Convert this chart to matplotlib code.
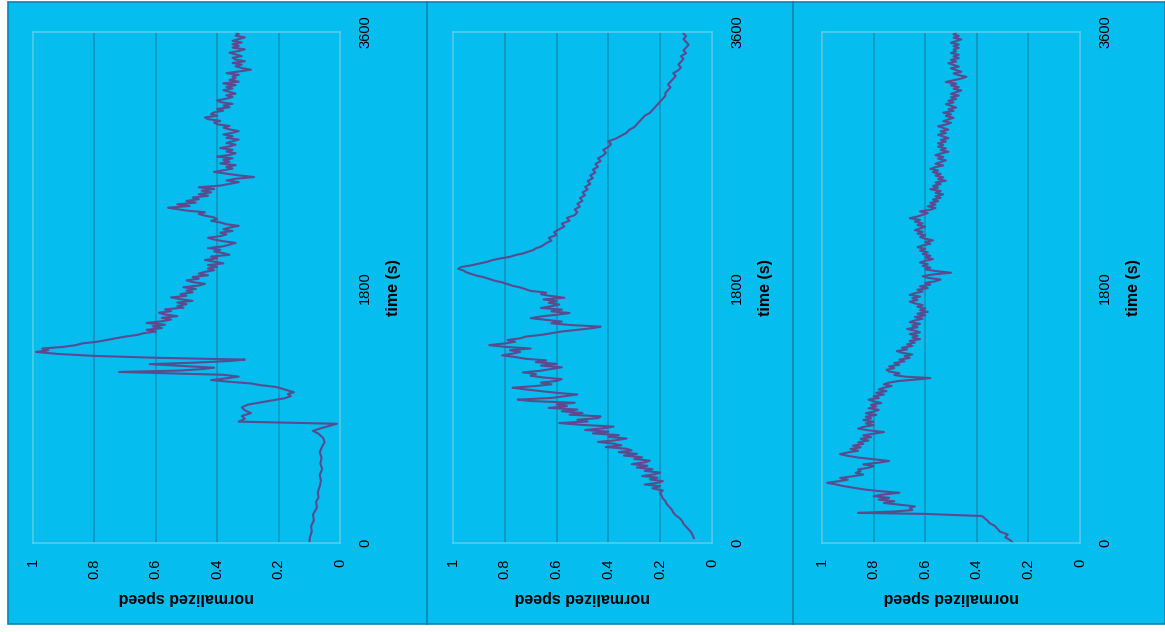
import numpy as np
import matplotlib.pyplot as plt
from matplotlib.patches import Rectangle
from matplotlib.lines import Line2D

plt.rcParams['font.family'] = ['Liberation Sans', 'DejaVu Sans']

# panel 1 : time (s) / normalized speed
t1 = [0, 40, 80, 120, 160, 200, 250, 290, 320, 360,
      400, 440, 480, 520, 560, 600, 640, 680, 710, 740,
      770, 790, 810, 828, 840, 855, 875, 895, 915, 935,
      955, 975, 990, 1005, 1020, 1035, 1050, 1062, 1075, 1088,
      1100, 1112, 1124, 1136, 1148, 1160, 1172, 1185, 1195, 1205,
      1215, 1225, 1235, 1248, 1260, 1270, 1282, 1292, 1305, 1318,
      1332, 1346, 1358, 1370, 1382, 1394, 1406, 1418, 1430, 1442,
      1454, 1466, 1478, 1490, 1502, 1514, 1526, 1538, 1550, 1562,
      1574, 1586, 1598, 1610, 1622, 1634, 1646, 1658, 1670, 1682,
      1694, 1706, 1718, 1730, 1742, 1754, 1766, 1778, 1790, 1802,
      1814, 1826, 1838, 1850, 1862, 1874, 1886, 1898, 1910, 1922,
      1934, 1946, 1958, 1970, 1982, 1994, 2006, 2018, 2030, 2042,
      2054, 2066, 2078, 2090, 2102, 2114, 2126, 2138, 2150, 2162,
      2174, 2186, 2198, 2210, 2222, 2234, 2246, 2258, 2270, 2282,
      2294, 2306, 2318, 2330, 2342, 2352, 2362, 2374, 2386, 2398,
      2410, 2422, 2434, 2446, 2458, 2470, 2482, 2494, 2506, 2518,
      2530, 2542, 2554, 2566, 2578, 2590, 2602, 2614, 2626, 2638,
      2650, 2662, 2674, 2686, 2698, 2710, 2722, 2734, 2746, 2758,
      2770, 2782, 2794, 2806, 2818, 2830, 2842, 2854, 2866, 2878,
      2890, 2902, 2914, 2926, 2938, 2950, 2962, 2974, 2986, 2998,
      3010, 3022, 3034, 3046, 3058, 3070, 3082, 3094, 3106, 3118,
      3130, 3142, 3154, 3166, 3178, 3190, 3202, 3214, 3226, 3238,
      3250, 3262, 3274, 3286, 3298, 3310, 3322, 3334, 3346, 3358,
      3370, 3382, 3394, 3406, 3418, 3430, 3442, 3454, 3466, 3478,
      3490, 3502, 3514, 3526, 3538, 3550, 3562, 3574, 3586, 3598]
s1 = [0.10, 0.098, 0.092, 0.094, 0.085, 0.088, 0.075, 0.078, 0.070, 0.072,
      0.066, 0.062, 0.066, 0.058, 0.064, 0.060, 0.066, 0.058, 0.05, 0.055,
      0.07, 0.088, 0.06, 0.03, 0.01, 0.33, 0.31, 0.32, 0.29, 0.31,
      0.32, 0.30, 0.26, 0.22, 0.18, 0.16, 0.17, 0.15, 0.17, 0.19,
      0.21, 0.26, 0.29, 0.36, 0.42, 0.37, 0.33, 0.38, 0.55, 0.72,
      0.52, 0.45, 0.41, 0.52, 0.62, 0.48, 0.36, 0.31, 0.60, 0.80,
      0.92, 0.99, 0.95, 0.97, 0.90, 0.86, 0.84, 0.79, 0.76, 0.73,
      0.70, 0.66, 0.64, 0.60, 0.63, 0.58, 0.61, 0.57, 0.63, 0.58,
      0.55, 0.58, 0.53, 0.57, 0.59, 0.55, 0.57, 0.51, 0.53, 0.50,
      0.53, 0.48, 0.52, 0.55, 0.50, 0.52, 0.48, 0.50, 0.47, 0.51,
      0.46, 0.44, 0.48, 0.50, 0.46, 0.48, 0.43, 0.46, 0.44, 0.41,
      0.43, 0.40, 0.43, 0.38, 0.41, 0.44, 0.40, 0.42, 0.36, 0.38,
      0.41, 0.39, 0.43, 0.38, 0.36, 0.34, 0.38, 0.41, 0.43, 0.39,
      0.37, 0.39, 0.35, 0.38, 0.36, 0.33, 0.37, 0.39, 0.42, 0.40,
      0.41, 0.44, 0.46, 0.44, 0.50, 0.53, 0.56, 0.49, 0.53, 0.47,
      0.50, 0.46, 0.48, 0.43, 0.46, 0.42, 0.45, 0.41, 0.46, 0.39,
      0.36, 0.33, 0.37, 0.34, 0.28, 0.33, 0.37, 0.41, 0.38, 0.35,
      0.37, 0.34, 0.39, 0.36, 0.38, 0.35, 0.40, 0.36, 0.34, 0.37,
      0.35, 0.39, 0.36, 0.34, 0.37, 0.35, 0.33, 0.37, 0.35, 0.38,
      0.35, 0.33, 0.36, 0.38, 0.36, 0.40, 0.41, 0.39, 0.43, 0.44,
      0.40, 0.42, 0.41, 0.38, 0.40, 0.36, 0.38, 0.35, 0.39, 0.40,
      0.37, 0.35, 0.37, 0.34, 0.36, 0.38, 0.35, 0.37, 0.34, 0.38,
      0.33, 0.36, 0.34, 0.35, 0.33, 0.37, 0.33, 0.29, 0.32, 0.34,
      0.32, 0.35, 0.31, 0.34, 0.35, 0.32, 0.34, 0.36, 0.33, 0.31,
      0.35, 0.33, 0.35, 0.32, 0.35, 0.33, 0.31, 0.34, 0.33, 0.34]

# panel 2
t2 = [35, 55, 75, 95, 115, 135, 155, 175, 195, 215,
      235, 255, 275, 295, 315, 335, 355, 370, 385, 400,
      412, 424, 436, 448, 460, 472, 484, 496, 508, 520,
      532, 544, 556, 568, 580, 592, 604, 616, 628, 640,
      652, 664, 676, 688, 700, 712, 724, 736, 748, 760,
      772, 784, 796, 808, 820, 832, 845, 856, 868, 880,
      892, 904, 916, 928, 940, 952, 964, 976, 988, 1000,
      1010, 1022, 1034, 1046, 1058, 1070, 1082, 1094, 1106, 1118,
      1130, 1142, 1154, 1166, 1178, 1190, 1202, 1214, 1226, 1238,
      1250, 1262, 1274, 1286, 1298, 1310, 1322, 1334, 1346, 1358,
      1370, 1382, 1394, 1406, 1418, 1430, 1442, 1454, 1466, 1478,
      1490, 1502, 1514, 1524, 1536, 1548, 1560, 1572, 1584, 1596,
      1608, 1620, 1632, 1644, 1656, 1668, 1680, 1692, 1704, 1716,
      1728, 1740, 1752, 1764, 1776, 1788, 1800, 1812, 1824, 1836,
      1848, 1860, 1872, 1884, 1896, 1908, 1920, 1932, 1944, 1956,
      1968, 1980, 1992, 2004, 2016, 2028, 2040, 2052, 2064, 2076,
      2088, 2100, 2112, 2130, 2150, 2170, 2190, 2210, 2230, 2250,
      2270, 2290, 2310, 2330, 2350, 2370, 2390, 2410, 2430, 2450,
      2470, 2490, 2510, 2530, 2550, 2570, 2590, 2610, 2630, 2650,
      2670, 2690, 2710, 2730, 2750, 2770, 2790, 2810, 2830, 2850,
      2870, 2890, 2910, 2930, 2950, 2970, 2990, 3010, 3030, 3050,
      3070, 3090, 3110, 3130, 3150, 3170, 3190, 3210, 3230, 3250,
      3270, 3290, 3310, 3330, 3350, 3370, 3390, 3410, 3430, 3450,
      3470, 3490, 3510, 3530, 3550, 3570, 3590]
s2 = [0.07, 0.075, 0.08, 0.09, 0.10, 0.11, 0.115, 0.125, 0.14, 0.15,
      0.155, 0.165, 0.175, 0.18, 0.19, 0.195, 0.20, 0.19, 0.23, 0.20,
      0.26, 0.21, 0.19, 0.24, 0.21, 0.27, 0.22, 0.20, 0.26, 0.23,
      0.29, 0.25, 0.31, 0.26, 0.24, 0.30, 0.27, 0.34, 0.29, 0.36,
      0.31, 0.33, 0.41, 0.35, 0.38, 0.44, 0.37, 0.33, 0.40, 0.36,
      0.46, 0.40, 0.49, 0.42, 0.38, 0.50, 0.59, 0.48, 0.52, 0.44,
      0.43, 0.55, 0.50, 0.58, 0.52, 0.63, 0.56, 0.60, 0.53, 0.70,
      0.75, 0.62, 0.57, 0.52, 0.60, 0.66, 0.72, 0.77, 0.68, 0.62,
      0.66, 0.60, 0.58, 0.65, 0.70, 0.68, 0.73, 0.66, 0.62, 0.58,
      0.66, 0.60, 0.68, 0.64, 0.72, 0.76, 0.81, 0.77, 0.74, 0.78,
      0.70, 0.80, 0.86, 0.80, 0.76, 0.79, 0.74, 0.72, 0.66, 0.62,
      0.58, 0.52, 0.46, 0.43, 0.55, 0.62, 0.58, 0.64, 0.70, 0.66,
      0.60, 0.55, 0.62, 0.58, 0.66, 0.62, 0.59, 0.63, 0.60, 0.65,
      0.57, 0.62, 0.66, 0.64, 0.70, 0.72, 0.74, 0.77, 0.79, 0.81,
      0.84, 0.86, 0.88, 0.91, 0.93, 0.95, 0.96, 0.98, 0.97, 0.93,
      0.90, 0.87, 0.85, 0.82, 0.78, 0.76, 0.73, 0.71, 0.69, 0.68,
      0.66, 0.65, 0.64, 0.62, 0.63, 0.60, 0.61, 0.59, 0.57, 0.58,
      0.55, 0.56, 0.53, 0.52, 0.53, 0.51, 0.52, 0.50, 0.51, 0.49,
      0.50, 0.48, 0.49, 0.47, 0.48, 0.46, 0.47, 0.45, 0.46, 0.44,
      0.45, 0.43, 0.44, 0.42, 0.41, 0.42, 0.40, 0.39, 0.40, 0.37,
      0.35, 0.33, 0.32, 0.30, 0.29, 0.28, 0.27, 0.26, 0.24, 0.23,
      0.22, 0.21, 0.20, 0.19, 0.18, 0.18, 0.17, 0.16, 0.17, 0.16,
      0.15, 0.14, 0.15, 0.13, 0.12, 0.13, 0.12, 0.11, 0.12, 0.10,
      0.11, 0.10, 0.09, 0.10, 0.11, 0.10, 0.11]

# panel 3
t3 = [0, 20, 40, 60, 80, 100, 120, 140, 160, 175,
      190, 205, 212, 222, 232, 245, 258, 270, 282, 294,
      306, 318, 330, 342, 354, 366, 378, 390, 402, 414,
      424, 434, 446, 458, 470, 482, 494, 506, 518, 530,
      542, 554, 566, 578, 590, 602, 614, 626, 638, 650,
      662, 674, 686, 698, 710, 722, 734, 746, 758, 770,
      782, 794, 806, 818, 830, 842, 854, 866, 878, 890,
      902, 914, 926, 938, 950, 962, 974, 986, 998, 1010,
      1022, 1034, 1046, 1058, 1070, 1082, 1094, 1106, 1118, 1130,
      1142, 1154, 1162, 1172, 1184, 1196, 1208, 1220, 1232, 1244,
      1256, 1268, 1280, 1292, 1304, 1316, 1328, 1340, 1352, 1364,
      1376, 1388, 1400, 1412, 1424, 1436, 1448, 1460, 1472, 1484,
      1496, 1508, 1520, 1532, 1544, 1556, 1568, 1580, 1592, 1604,
      1616, 1628, 1640, 1652, 1664, 1676, 1688, 1700, 1712, 1724,
      1736, 1748, 1760, 1772, 1784, 1796, 1808, 1820, 1832, 1844,
      1856, 1868, 1880, 1892, 1904, 1916, 1928, 1940, 1952, 1964,
      1976, 1988, 2000, 2012, 2024, 2036, 2048, 2060, 2072, 2084,
      2096, 2108, 2120, 2132, 2144, 2156, 2168, 2180, 2192, 2204,
      2216, 2228, 2240, 2252, 2264, 2276, 2288, 2300, 2312, 2324,
      2336, 2348, 2360, 2372, 2384, 2396, 2408, 2420, 2432, 2444,
      2456, 2468, 2480, 2492, 2504, 2516, 2528, 2540, 2552, 2564,
      2576, 2588, 2600, 2612, 2624, 2636, 2648, 2660, 2672, 2684,
      2696, 2708, 2720, 2732, 2744, 2756, 2768, 2780, 2792, 2804,
      2816, 2828, 2840, 2852, 2864, 2876, 2888, 2900, 2912, 2924,
      2936, 2948, 2960, 2972, 2984, 2996, 3008, 3020, 3032, 3044,
      3056, 3068, 3080, 3092, 3104, 3116, 3128, 3140, 3152, 3164,
      3176, 3188, 3200, 3212, 3224, 3236, 3248, 3260, 3272, 3284,
      3296, 3308, 3320, 3332, 3344, 3356, 3368, 3380, 3392, 3404,
      3416, 3428, 3440, 3452, 3464, 3476, 3488, 3500, 3512, 3524,
      3536, 3548, 3560, 3572, 3584, 3596]
s3 = [0.26, 0.27, 0.29, 0.28, 0.31, 0.32, 0.33, 0.35, 0.36, 0.37,
      0.38, 0.60, 0.86, 0.72, 0.65, 0.66, 0.64, 0.70, 0.76, 0.72,
      0.78, 0.74, 0.80, 0.76, 0.70, 0.78, 0.84, 0.88, 0.92, 0.95,
      0.98, 0.94, 0.90, 0.93, 0.88, 0.84, 0.87, 0.85, 0.86, 0.82,
      0.80, 0.84, 0.78, 0.74, 0.80, 0.86, 0.90, 0.93, 0.90, 0.86,
      0.89, 0.85, 0.88, 0.84, 0.86, 0.82, 0.85, 0.81, 0.84, 0.80,
      0.76, 0.82, 0.86, 0.84, 0.80, 0.83, 0.80, 0.84, 0.81, 0.83,
      0.79, 0.83, 0.80, 0.78, 0.82, 0.79, 0.81, 0.77, 0.80, 0.82,
      0.78, 0.80, 0.76, 0.79, 0.75, 0.78, 0.76, 0.73, 0.76, 0.74,
      0.70, 0.62, 0.58, 0.68, 0.72, 0.70, 0.74, 0.75, 0.72, 0.74,
      0.70, 0.72, 0.68, 0.70, 0.66, 0.68, 0.65, 0.69, 0.71, 0.67,
      0.69, 0.65, 0.67, 0.64, 0.66, 0.62, 0.65, 0.63, 0.66, 0.62,
      0.64, 0.67, 0.63, 0.65, 0.62, 0.66, 0.64, 0.61, 0.64, 0.60,
      0.63, 0.59, 0.62, 0.60, 0.63, 0.61, 0.64, 0.66, 0.63, 0.65,
      0.62, 0.66, 0.64, 0.61, 0.63, 0.59, 0.62, 0.58, 0.60, 0.56,
      0.54, 0.59, 0.61, 0.57, 0.50, 0.56, 0.60, 0.58, 0.61, 0.59,
      0.62, 0.60, 0.57, 0.60, 0.58, 0.61, 0.59, 0.62, 0.60, 0.63,
      0.61, 0.58, 0.60, 0.57, 0.60, 0.62, 0.60, 0.63, 0.61, 0.64,
      0.62, 0.60, 0.63, 0.61, 0.64, 0.62, 0.66, 0.63, 0.61, 0.59,
      0.62, 0.58, 0.56, 0.59, 0.56, 0.58, 0.55, 0.57, 0.54, 0.56,
      0.53, 0.56, 0.54, 0.58, 0.55, 0.57, 0.54, 0.56, 0.52, 0.55,
      0.53, 0.56, 0.54, 0.57, 0.55, 0.58, 0.56, 0.53, 0.56, 0.54,
      0.52, 0.55, 0.53, 0.56, 0.54, 0.51, 0.54, 0.52, 0.55, 0.53,
      0.55, 0.52, 0.54, 0.51, 0.53, 0.55, 0.52, 0.54, 0.51, 0.53,
      0.55, 0.52, 0.50, 0.53, 0.51, 0.49, 0.52, 0.50, 0.53, 0.49,
      0.51, 0.48, 0.50, 0.52, 0.49, 0.51, 0.48, 0.50, 0.47, 0.50,
      0.48, 0.46, 0.49, 0.47, 0.50, 0.48, 0.52, 0.49, 0.46, 0.44,
      0.47, 0.49, 0.46, 0.48, 0.50, 0.47, 0.49, 0.51, 0.48, 0.50,
      0.47, 0.49, 0.47, 0.50, 0.48, 0.49, 0.47, 0.49, 0.47, 0.50,
      0.48, 0.46, 0.49, 0.47, 0.49, 0.48]

speed_ticks = [0, 0.2, 0.4, 0.6, 0.8, 1]
speed_labels = ['0', '0.2', '0.4', '0.6', '0.8', '1']
time_ticks = [0, 1800, 3600]
time_labels = ['0', '1800', '3600']

W, H = 1165, 632
bg = '#06bdf0'
line_c = '#5a4a8e'
grid_c = '#0c92bb'
frame_c = '#5ccfe9'
dark_c = '#0a86ad'

fig = plt.figure(figsize=(W / 100, H / 100), dpi=100)
fig.patch.set_facecolor('white')

# cyan sheet behind the three panels
fig.add_artist(Rectangle((8 / W, 1 - 624 / H), (W - 8) / W, 622 / H,
                         transform=fig.transFigure, facecolor=bg,
                         edgecolor=dark_c, lw=1.2, zorder=0))
for xs in [427, 793]:
    fig.add_artist(Line2D([xs / W, xs / W], [1 - 624 / H, 1 - 2 / H],
                          transform=fig.transFigure, color=dark_c, lw=1.2))

# plot areas in pixels: left, right
boxes = [(33, 340), (453, 712), (822, 1080)]
top, bottom = 32, 543


def draw_panel(ax, t, s):
    assert len(t) == len(s)
    ax.set_facecolor(bg)
    ax.plot(s, t, color=line_c, lw=1.5)
    ax.set_xlim(1, 0)
    ax.set_ylim(0, 3600)
    ax.set_xticks(speed_ticks)
    ax.set_xticklabels(speed_labels, rotation=90, fontsize=10.5)
    ax.yaxis.tick_right()
    ax.set_yticks(time_ticks)
    ax.set_yticklabels(time_labels, rotation=90, fontsize=10.5, va='center')
    ax.tick_params(axis='x', length=0, pad=11)
    ax.tick_params(axis='y', length=0, pad=13)
    ax.grid(axis='x', color=grid_c, lw=1.1)
    ax.grid(axis='y', visible=False)
    for sp in ax.spines.values():
        sp.set_color(frame_c)
        sp.set_linewidth(1.1)
    ax.set_xlabel('normalized speed', rotation=180, fontsize=11.5,
                  fontweight='bold', labelpad=8)
    ax.yaxis.set_label_position('right')
    ax.set_ylabel('time (s)', rotation=90, fontsize=11.5, fontweight='bold',
                  labelpad=10)


for (x0, x1), t, s in zip(boxes, [t1, t2, t3], [s1, s2, s3]):
    ax = fig.add_axes([x0 / W, 1 - bottom / H, (x1 - x0) / W, (bottom - top) / H])
    draw_panel(ax, t, s)

fig.savefig('out.png', dpi=100, facecolor=fig.get_facecolor())
